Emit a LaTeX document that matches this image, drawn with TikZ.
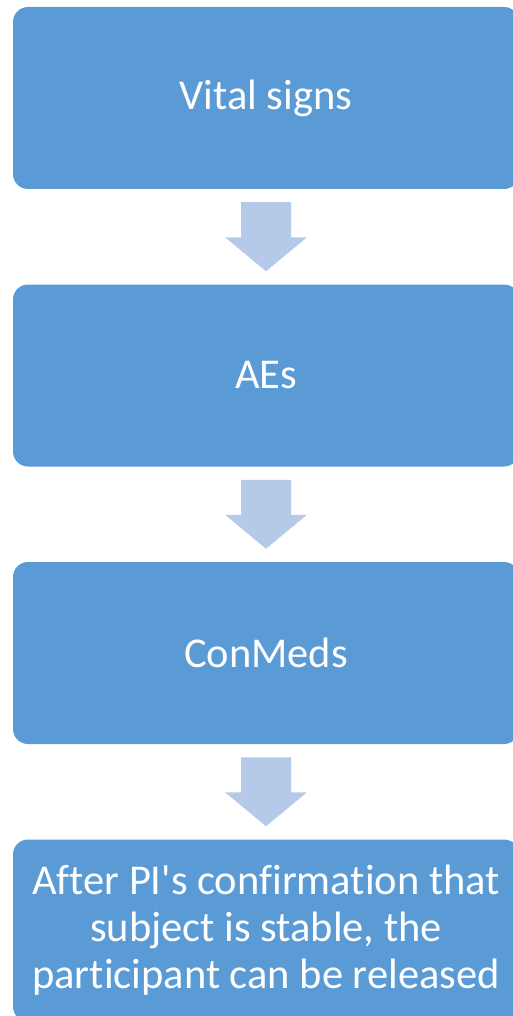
\documentclass[tikz,border=0pt]{standalone}
\usepackage{fontspec}
\setmainfont{Carlito}[Ligatures={NoCommon}]
\usetikzlibrary{calc}
\definecolor{boxblue}{HTML}{5B9BD5}
\definecolor{arrowblue}{HTML}{B4CAE8}
\tikzset{
  stepbox/.style={fill=boxblue, rounded corners=15pt, minimum width=506pt, minimum height=182pt,
    text=white, font=\fontsize{42.5}{47}\selectfont, align=center, inner sep=0pt},
  blockarrow/.pic={\fill[arrowblue] (-25,-34.5) -- (25,-34.5) -- (25,0.5) -- (41,0.5) -- (0,34.5) -- (-41,0.5) -- (-25,0.5) -- cycle;}
}
\begin{document}
\begin{tikzpicture}[x=1pt,y=-1pt]
\useasboundingbox (0,0) rectangle (513,1016);
\clip (0,0) rectangle (513,1016);
\node[stepbox] (b1) at (266,98) {Vital signs};
\node[stepbox] (b2) at (266,375.5) {AEs};
\node[stepbox] (b3) at (266,653) {ConMeds};
\node[stepbox] (b4) at (266,930.5) {After PI\textquotesingle s confirmation that\\subject is stable, the\\participant can be released};
\coordinate (a1) at ($(b1.south)!0.5!(b2.north)$);
\coordinate (a2) at ($(b2.south)!0.5!(b3.north)$);
\coordinate (a3) at ($(b3.south)!0.5!(b4.north)$);
\pic at (a1) {blockarrow};
\pic at (a2) {blockarrow};
\pic at (a3) {blockarrow};
\end{tikzpicture}
\end{document}
